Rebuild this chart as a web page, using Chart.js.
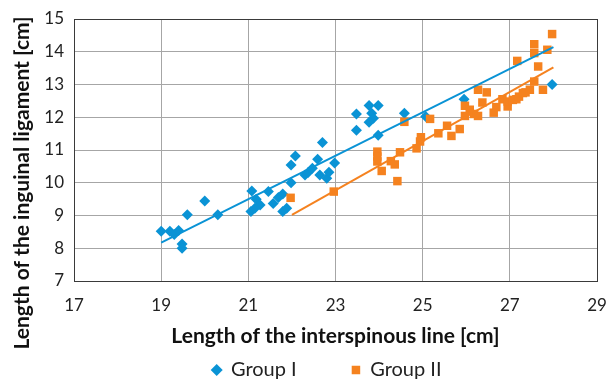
<!DOCTYPE html>
<html>
<head>
<meta charset="utf-8">
<script src="https://cdn.jsdelivr.net/npm/chart.js@4/dist/chart.umd.min.js"></script>
<style>
  html, body { margin: 0; padding: 0; background: #ffffff; }
  #wrap { width: 608px; height: 380px; }
</style>
</head>
<body>
<div id="wrap"><canvas id="c" width="608" height="380"></canvas></div>
<script>
// ---- Data ----
const seriesNames = ['Group I', 'Group II'];
const xAxisTitle = 'Length of the interspinous line [cm]';
const yAxisTitle = 'Length of the inguinal ligament [cm]';
const xTicks = [17, 19, 21, 23, 25, 27, 29];
const yTicks = [7, 8, 9, 10, 11, 12, 13, 14, 15];

const groupIX = [19.0, 19.2, 19.3, 19.4, 19.48, 19.48, 19.6, 20.0, 20.3,
  21.08, 21.06, 21.18, 21.27, 21.15, 21.46, 21.57, 21.69, 21.79, 21.79, 21.88,
  21.98, 21.98, 22.08, 22.3, 22.37, 22.47, 22.59, 22.7, 22.64, 22.8, 22.85, 22.98,
  23.48, 23.48, 23.77, 23.98, 23.83, 23.87, 23.77, 23.98, 24.58, 25.07, 25.95, 27.97];
const groupIY = [8.52, 8.52, 8.42, 8.54, 8.13, 8.0, 9.02, 9.44, 9.02,
  9.75, 9.12, 9.5, 9.32, 9.22, 9.73, 9.37, 9.55, 9.66, 9.12, 9.22,
  10.0, 10.54, 10.82, 10.24, 10.31, 10.44, 10.72, 11.23, 10.24, 10.14, 10.32, 10.6,
  12.1, 11.6, 12.36, 12.36, 12.12, 11.97, 11.85, 11.45, 12.12, 12.02, 12.55, 13.0];

const groupIIX = [21.97, 22.96, 23.96, 23.96, 23.96, 24.06, 24.27, 24.36, 24.42, 24.48,
  24.58, 24.86, 24.94, 24.96, 25.17, 25.36, 25.56, 25.66, 25.85, 25.97,
  25.97, 26.08, 26.18, 26.27, 26.27, 26.37, 26.47, 26.63, 26.69, 26.83,
  26.95, 26.95, 27.07, 27.15, 27.21, 27.17, 27.3, 27.36, 27.46, 27.56,
  27.56, 27.56, 27.65, 27.76, 27.86, 27.97];
const groupIIY = [9.54, 9.73, 10.95, 10.8, 10.65, 10.36, 10.66, 10.56, 10.05, 10.93,
  11.86, 11.05, 11.26, 11.39, 11.95, 11.51, 11.74, 11.43, 11.64, 12.35,
  12.04, 12.23, 12.1, 12.84, 12.04, 12.45, 12.76, 12.14, 12.31, 12.55,
  12.33, 12.48, 12.53, 12.55, 12.63, 13.72, 12.74, 12.76, 12.84, 13.09,
  14.23, 13.96, 13.55, 12.84, 14.06, 14.54];

// Linear trend lines (end points)
const trendIX = [19, 28];
const trendIY = [8.17, 14.14];
const trendIIX = [22, 28];
const trendIIY = [9.02, 13.52];

// ---- Styling ----
const BLUE = '#0A93D5';
const ORANGE = '#F5821F';
const FONT = 'Lato, "Open Sans", sans-serif';
const TEXT = '#222222';
const GRID = '#A6A6A6';
const FRAME = '#3A3A3A';
const CLEAR = 'rgba(0,0,0,0)';
const LEGEND_FS = 20;

const toPts = (xs, ys) => xs.map((x, i) => ({ x: x, y: ys[i] }));

const placeBoxes = {
  id: 'placeBoxes',
  afterLayout(chart) {
    const lg = chart.legend;
    if (lg) {
      const pad = lg.options.labels.padding;
      const top = 370 - LEGEND_FS / 2 - pad;
      lg.top = top; lg.bottom = 380; lg.height = lg.bottom - lg.top;
      const dx = 327 - (lg.left + lg.right) / 2;
      lg.left += dx; lg.right += dx;
    }
    const tb = chart.titleBlock;
    if (tb) { tb.top = 0; tb.bottom = 366; tb.height = 366; }
  }
};

new Chart(document.getElementById('c'), {
  type: 'scatter',
  data: {
    datasets: [
      { label: seriesNames[0], data: toPts(groupIX, groupIY), pointStyle: 'rectRot',
        pointRadius: 5.5, pointHoverRadius: 5.5, backgroundColor: BLUE, borderColor: BLUE, borderWidth: 0, order: 3 },
      { label: seriesNames[1], data: toPts(groupIIX, groupIIY), pointStyle: 'rect',
        pointRadius: 6, pointHoverRadius: 6, backgroundColor: ORANGE, borderColor: ORANGE, borderWidth: 0, order: 2 },
      { label: 'Linear (' + seriesNames[0] + ')', data: toPts(trendIX, trendIY), showLine: true,
        borderColor: BLUE, borderWidth: 2, pointRadius: 0, fill: false, order: 1 },
      { label: 'Linear (' + seriesNames[1] + ')', data: toPts(trendIIX, trendIIY), showLine: true,
        borderColor: ORANGE, borderWidth: 2, pointRadius: 0, fill: false, order: 0 }
    ]
  },
  options: {
    responsive: false,
    animation: false,
    devicePixelRatio: 1,
    layout: { padding: { top: 19, right: 11, left: 0, bottom: 0 } },
    scales: {
      x: {
        type: 'linear', min: xTicks[0], max: xTicks[xTicks.length - 1],
        afterBuildTicks: s => { s.ticks = xTicks.map(v => ({ value: v })); },
        afterFit: s => { s.height = 69; },
        ticks: { font: { family: FONT, size: 17 }, color: TEXT, padding: 0, maxRotation: 0 },
        grid: { drawTicks: true, tickLength: 14, tickColor: CLEAR, lineWidth: 1,
          color: c => (c.tick && c.tick.value === 29) ? FRAME : GRID },
        border: { display: true, color: FRAME, width: 1 },
        title: { display: true, text: xAxisTitle, color: '#111',
          font: { family: FONT, size: 21, weight: 'bold' }, padding: { top: 0, bottom: 1 } }
      },
      y: {
        type: 'linear', min: yTicks[0], max: yTicks[yTicks.length - 1],
        afterBuildTicks: s => { s.ticks = yTicks.map(v => ({ value: v })); },
        afterFit: s => { const tb = s.chart.titleBlock; s.width = 74 - (tb ? tb.width : 36.6); },
        ticks: { font: { family: FONT, size: 17 }, color: TEXT, padding: 0 },
        grid: { drawTicks: true, tickLength: 10, tickColor: CLEAR, lineWidth: 1,
          color: c => (c.tick && c.tick.value === 15) ? FRAME : GRID },
        border: { display: true, color: FRAME, width: 1 }
      }
    },
    plugins: {
      legend: {
        position: 'bottom', maxHeight: 30,
        labels: {
          usePointStyle: true, boxWidth: 8.5, boxHeight: 8.5, padding: 55,
          font: { family: FONT, size: LEGEND_FS }, color: TEXT,
          filter: item => item.datasetIndex < 2,
          sort: (a, b) => a.datasetIndex - b.datasetIndex
        }
      },
      title: {
        display: true, position: 'left', text: yAxisTitle, color: '#111',
        font: { family: FONT, size: 21, weight: 'bold' }, padding: { top: 9.4, bottom: 2 }
      },
      tooltip: { enabled: false }
    }
  },
  plugins: [placeBoxes]
});
</script>
</body>
</html>
